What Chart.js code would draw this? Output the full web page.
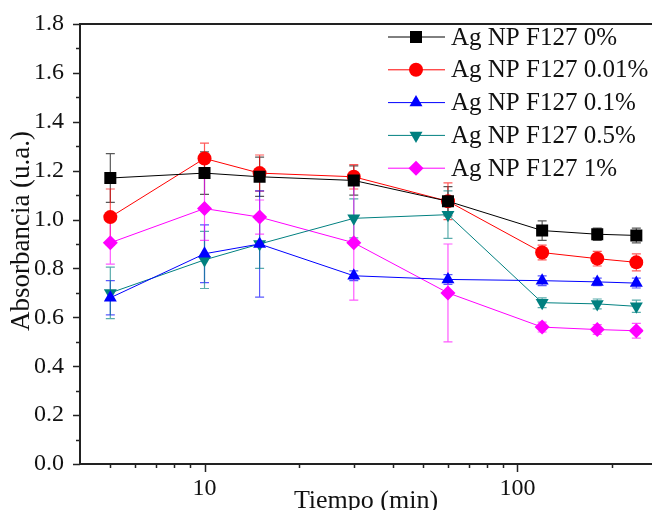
<!DOCTYPE html>
<html>
<head>
<meta charset="utf-8">
<script src="https://cdn.jsdelivr.net/npm/chart.js@4.4.1/dist/chart.umd.min.js"></script>
<style>
  html, body { margin: 0; padding: 0; background: #fff; }
  canvas { display: block; }
</style>
</head>
<body>
<canvas id="chart" width="652" height="510"></canvas>
<script>
// tiempo (min)
const times = [5, 10, 15, 30, 60, 120, 180, 240];

const labels = ['Ag NP F127 0%', 'Ag NP F127 0.01%', 'Ag NP F127 0.1%', 'Ag NP F127 0.5%', 'Ag NP F127 1%'];

// absorbancia
const abs0    = [1.17, 1.19, 1.175, 1.16, 1.075, 0.955, 0.94, 0.935];
const abs001  = [1.01, 1.25, 1.19, 1.175, 1.075, 0.865, 0.84, 0.825];
const abs01   = [0.68, 0.86, 0.90, 0.77, 0.755, 0.75, 0.745, 0.74];
const abs05   = [0.70, 0.835, 0.90, 1.005, 1.02, 0.66, 0.655, 0.645];
const abs1    = [0.905, 1.045, 1.01, 0.905, 0.70, 0.56, 0.55, 0.545];

// error bars (+/-)
const err0    = [0.10, 0.087, 0.08, 0.06, 0.06, 0.04, 0.025, 0.03];
const err001  = [0.115, 0.063, 0.074, 0.05, 0.075, 0.03, 0.03, 0.035];
const err01   = [0.07, 0.118, 0.217, 0.02, 0.02, 0.02, 0.015, 0.02];
const err05   = [0.105, 0.117, 0.10, 0.08, 0.097, 0.02, 0.02, 0.025];
const err1    = [0.087, 0.13, 0.07, 0.235, 0.20, 0.02, 0.02, 0.03];

const yTicks = [0, 0.2, 0.4, 0.6, 0.8, 1.0, 1.2, 1.4, 1.6, 1.8];

const FONT = 'Liberation Serif, Times New Roman, serif';

function mk(label, vals, errs, color, style, radius, rotation) {
  return {
    label: label,
    data: times.map((t, i) => ({ x: t, y: vals[i] })),
    errs: errs,
    borderColor: color,
    backgroundColor: color,
    borderWidth: 1,
    pointStyle: style,
    pointRadius: radius,
    pointRotation: rotation || 0,
    pointBorderWidth: 0,
    pointBackgroundColor: color,
    tension: 0
  };
}

const datasets = [
  mk(labels[0], abs0, err0, '#000000', 'rect', 8.5),
  mk(labels[1], abs001, err001, '#ff0000', 'circle', 7),
  mk(labels[2], abs01, err01, '#0000ff', 'triangle', 7.5),
  mk(labels[3], abs05, err05, '#008080', 'triangle', 7.5, 180),
  mk(labels[4], abs1, err1, '#ff00ff', 'rectRot', 7.5)
];

const errorBars = {
  id: 'errorBars',
  beforeDatasetsDraw(chart) {
    const ctx = chart.ctx, xs = chart.scales.x, ys = chart.scales.y;
    ctx.save();
    ctx.lineWidth = 1.2;
    chart.data.datasets.forEach(ds => {
      ctx.strokeStyle = ds.borderColor;
      ctx.globalAlpha = 0.65;
      ds.data.forEach((p, i) => {
        const e = ds.errs[i];
        const x = xs.getPixelForValue(p.x);
        const y1 = ys.getPixelForValue(p.y + e);
        const y2 = ys.getPixelForValue(p.y - e);
        ctx.beginPath();
        ctx.moveTo(x, y1); ctx.lineTo(x, y2);
        ctx.moveTo(x - 4.5, y1); ctx.lineTo(x + 4.5, y1);
        ctx.moveTo(x - 4.5, y2); ctx.lineTo(x + 4.5, y2);
        ctx.stroke();
      });
    });
    ctx.restore();
  }
};

const axesAndLegend = {
  id: 'axesAndLegend',
  afterDraw(chart) {
    const ctx = chart.ctx, xs = chart.scales.x, ys = chart.scales.y;
    const a = chart.chartArea;
    ctx.save();
    ctx.strokeStyle = '#222';
    ctx.lineWidth = 2;
    ctx.beginPath();
    ctx.moveTo(a.left, a.top); ctx.lineTo(652, a.top);
    ctx.moveTo(a.left, a.top - 1); ctx.lineTo(a.left, a.bottom + 1);
    ctx.moveTo(a.left - 1, a.bottom); ctx.lineTo(652, a.bottom);
    ctx.stroke();

    // y ticks
    ctx.lineWidth = 1.5;
    ctx.beginPath();
    for (let k = 0; k <= 18; k++) {
      const y = Math.round(ys.getPixelForValue(k / 10)) + 0.5;
      const len = k % 2 === 0 ? 7 : 4;
      ctx.moveTo(a.left - len, y); ctx.lineTo(a.left, y);
    }
    // x ticks
    const xt = [5, 6, 7, 8, 9, 10, 20, 30, 40, 50, 60, 70, 80, 90, 100, 200];
    xt.forEach(v => {
      const x = Math.round(xs.getPixelForValue(v)) + 0.5;
      const len = (v === 10 || v === 100) ? 8 : 4;
      ctx.moveTo(x, a.bottom); ctx.lineTo(x, a.bottom + len);
    });
    ctx.stroke();

    // axis titles
    ctx.fillStyle = '#111';
    ctx.font = '26px ' + FONT;
    ctx.textAlign = 'center';
    ctx.textBaseline = 'middle';
    ctx.fillText('Tiempo (min)', 366, 501);
    ctx.font = '27px ' + FONT;
    ctx.save();
    ctx.translate(22, 231);
    ctx.rotate(-Math.PI / 2);
    ctx.fillText('Absorbancia (u.a.)', 0, 0);
    ctx.restore();

    // legend
    ctx.font = '25px ' + FONT;
    ctx.textAlign = 'left';
    chart.data.datasets.forEach((ds, i) => {
      const y = 37 + i * 32.8;
      ctx.strokeStyle = ds.borderColor;
      ctx.lineWidth = 1;
      ctx.beginPath();
      ctx.moveTo(388, y); ctx.lineTo(445, y);
      ctx.stroke();
      ctx.fillStyle = ds.borderColor;
      Chart.helpers.drawPoint(ctx, {
        pointStyle: ds.pointStyle,
        rotation: ds.pointRotation,
        radius: ds.pointRadius,
        borderWidth: 0
      }, 416, y);
      ctx.fillStyle = '#111';
      ctx.fillText(ds.label, 451, y + 1);
    });
    ctx.restore();
  }
};

new Chart(document.getElementById('chart'), {
  type: 'line',
  data: { datasets: datasets },
  options: {
    responsive: false,
    animation: false,
    layout: { padding: { top: 24, left: 0, right: 0, bottom: 0 } },
    plugins: { legend: { display: false }, tooltip: { enabled: false } },
    scales: {
      x: {
        type: 'logarithmic',
        min: 4,
        max: 253,
        grid: { display: false, drawTicks: false },
        border: { display: false },
        ticks: {
          autoSkip: false,
          maxRotation: 0,
          padding: 10,
          color: '#111',
          font: { family: FONT, size: 24 },
          callback: v => (v === 10 || v === 100) ? String(v) : ''
        },
        afterFit: s => {
          s.height = 46;
          s.paddingLeft = 0; s.paddingRight = 0;
        }
      },
      y: {
        min: 0,
        max: 1.8,
        grid: { display: false, drawTicks: false },
        border: { display: false },
        afterBuildTicks: s => { s.ticks = yTicks.map(v => ({ value: v })); },
        ticks: {
          padding: 16,
          color: '#111',
          font: { family: FONT, size: 24 },
          callback: v => Number(v).toFixed(1)
        },
        afterFit: s => {
          s.width = 80;
          s.paddingTop = 0; s.paddingBottom = 0;
        }
      }
    }
  },
  plugins: [errorBars, axesAndLegend]
});
</script>
</body>
</html>
